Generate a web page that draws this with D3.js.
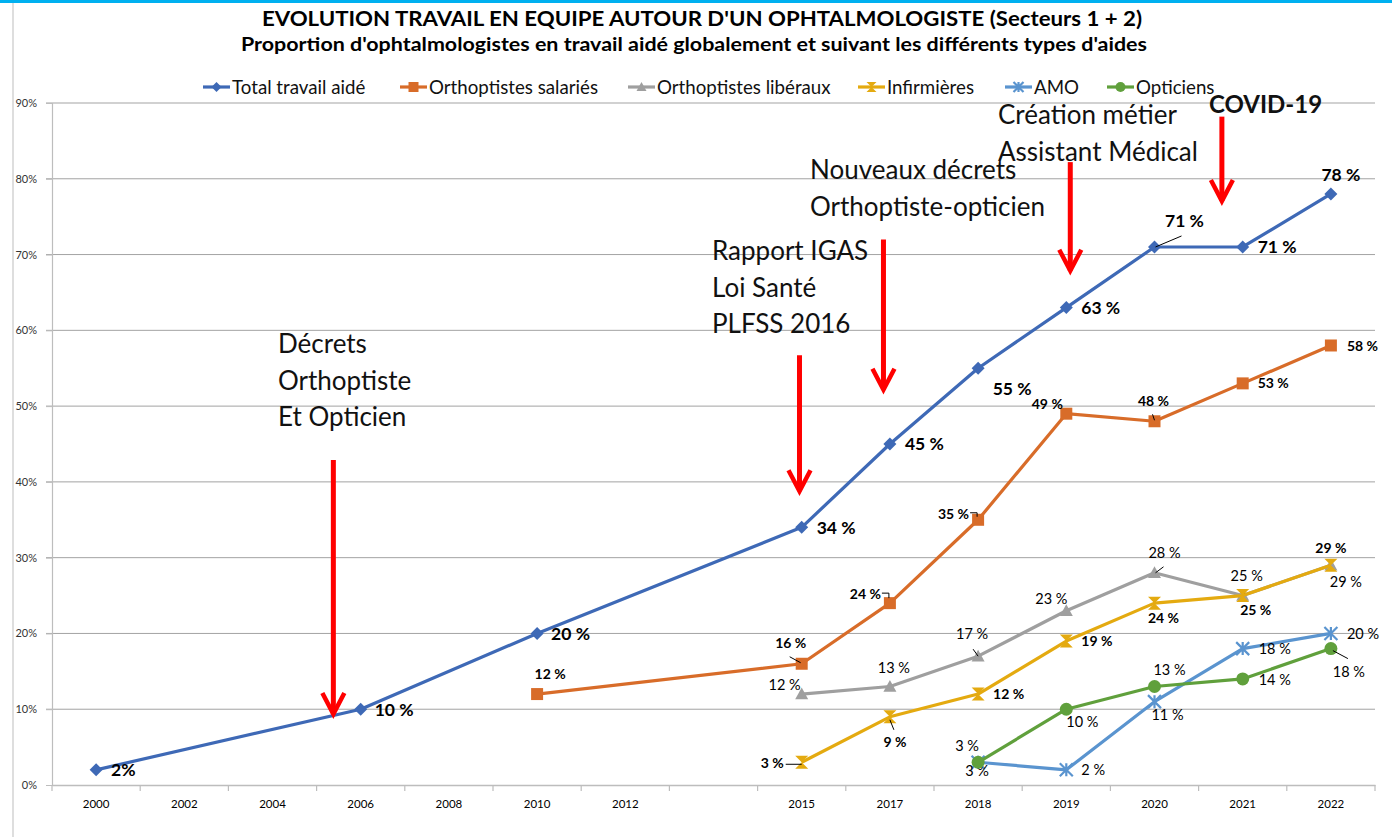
<!DOCTYPE html>
<html>
<head>
<meta charset="utf-8">
<script src="https://cdn.jsdelivr.net/npm/d3@7"></script>
<style>
    body { margin: 0; background: #fff; }
    svg { display: block; font-family: Lato, "Open Sans", sans-serif; }
</style>
</head>
<body>
<div id="chart-area"></div>
<script>
//1. Data
var slots = ["2000", "2002", "2004", "2006", "2008", "2010", "2012", "2013", "2015", "2017", "2018", "2019", "2020", "2021", "2022"];
var slotLabels = ["2000", "2002", "2004", "2006", "2008", "2010", "2012", "", "2015", "2017", "2018", "2019", "2020", "2021", "2022"];
var yTicks = [0, 10, 20, 30, 40, 50, 60, 70, 80, 90];

var totalYears = ["2000", "2006", "2010", "2015", "2017", "2018", "2019", "2020", "2021", "2022"];
var totalValues = [2, 10, 20, 34, 45, 55, 63, 71, 71, 78];

var salariesYears = ["2010", "2015", "2017", "2018", "2019", "2020", "2021", "2022"];
var salariesValues = [12, 16, 24, 35, 49, 48, 53, 58];

var liberauxYears = ["2015", "2017", "2018", "2019", "2020", "2021", "2022"];
var liberauxValues = [12, 13, 17, 23, 28, 25, 29];

var infirmieresYears = ["2015", "2017", "2018", "2019", "2020", "2021", "2022"];
var infirmieresValues = [3, 9, 12, 19, 24, 25, 29];

var amoYears = ["2018", "2019", "2020", "2021", "2022"];
var amoValues = [3, 2, 11, 18, 20];

var opticiensYears = ["2018", "2019", "2020", "2021", "2022"];
var opticiensValues = [3, 10, 13, 14, 18];

//2. Label placement (dx, dy, anchor, leader points) - layout only
var totalLabelPos = [[15, 0, "start"], [14, 0, "start"], [14, 0, "start"], [15, 0, "start"], [15, 0, "start"],
    [34, 20, "middle"], [15, 0, "start"], [30, -26, "middle", [[1, 0], [27, -11]]], [15, 0, "start"], [10, -19, "middle"]];
var salariesLabelPos = [[13, -20, "middle"], [-11, -21, "middle", [[-1, -1], [-12, -7]]],
    [-9, -9, "end", [[-8, -10], [-1, -10], [-1, -5]]], [-9, -6, "end", [[-8, -7], [-1, -7], [-1, -3]]],
    [-19, -10, "middle"], [-1, -20, "middle", [[-2, -7], [0, -1]]], [15, 0, "start"], [16, 0, "start"]];
var liberauxLabelPos = [[-1, -9, "end"], [4, -19, "middle"], [-6, -22, "middle", [[-5, -7], [0, 0]]],
    [-15, -12, "middle"], [10, -20, "middle", [[1, 0], [9, -6]]], [4, -20, "middle", [[3, -6], [1, 0]]], [15, 17, "middle"]];
var infirmieresLabelPos = [[-18, 1, "end", [[-16, 2], [0, 2]]], [5, 25, "middle", [[0, 3], [4, 13]]],
    [15, 0, "start"], [15, 0, "start"], [9, 15, "middle"], [13, 14, "middle"], [0, -17, "middle"]];
var amoLabelPos = [[-1, 9, "middle"], [15, 0, "start"], [13, 13, "middle"], [16, 0, "start"], [16, 0, "start"]];
var opticiensLabelPos = [[-11, -16, "middle"], [16, 13, "middle"], [15, -17, "middle"], [16, 1, "start"],
    [18, 23, "middle", [[2, 2], [17, 10]]]];

var series = [
    { name: "Total travail aidé", years: totalYears, values: totalValues, color: "#3e69b6", marker: "diamond",
      pos: totalLabelPos, bold: true, size: 17.5, compactFirst: true },
    { name: "Orthoptistes salariés", years: salariesYears, values: salariesValues, color: "#d86c29", marker: "square",
      pos: salariesLabelPos, bold: true, size: 14 },
    { name: "Orthoptistes libéraux", years: liberauxYears, values: liberauxValues, color: "#9f9f9f", marker: "triangle",
      pos: liberauxLabelPos, bold: false, size: 14.5 },
    { name: "Infirmières", years: infirmieresYears, values: infirmieresValues, color: "#e4aa10", marker: "hourglass",
      pos: infirmieresLabelPos, bold: true, size: 14 },
    { name: "AMO", years: amoYears, values: amoValues, color: "#5a94cf", marker: "star",
      pos: amoLabelPos, bold: false, size: 14.5 },
    { name: "Opticiens", years: opticiensYears, values: opticiensValues, color: "#60a03c", marker: "circle",
      pos: opticiensLabelPos, bold: false, size: 14.5 }
];
var legendX = [203, 400, 628, 858, 1005, 1107];

// Annotations
var notes = [
    { lines: ["Décrets", "Orthoptiste", "Et Opticien"], x: 278, y: 353 },
    { lines: ["Rapport IGAS", "Loi Santé", "PLFSS 2016"], x: 712, y: 260 },
    { lines: ["Nouveaux décrets", "Orthoptiste-opticien"], x: 810, y: 179 },
    { lines: ["Création métier", "Assistant Médical"], x: 998, y: 124 },
    { lines: ["COVID-19"], x: 1209, y: 113, bold: true }
];
// Arrows: slot, offset in bands, top value, tip value (%)
var arrows = [
    { slot: "2006", off: -0.31, from: 42.9, to: 9.1 },
    { slot: "2015", off: -0.025, from: 56.7, to: 38.5 },
    { slot: "2017", off: -0.073, from: 72, to: 51.9 },
    { slot: "2019", off: 0.045, from: 82.2, to: 67.6 },
    { slot: "2021", off: -0.236, from: 88.2, to: 76.8 }
];

//3. SVG
var svg_width = 1392, svg_height = 837;
var svg = d3.select("#chart-area").append("svg")
    .attr("width", svg_width)
    .attr("height", svg_height);

// frame
svg.append("rect").attr("x", 0).attr("y", 0).attr("width", svg_width).attr("height", 3).attr("fill", "#00b0f0");
svg.append("line").attr("x1", 13).attr("x2", 13).attr("y1", 3).attr("y2", svg_height)
    .attr("stroke", "#c8c8c8").attr("stroke-width", 1.2);

//4. Scales
var x_scaling = d3.scaleBand().domain(slots).range([52, 1375]).padding(0);
var y_scaling = d3.scaleLinear().domain([0, 90]).range([785, 103]);
var cx = function (yr) { return x_scaling(yr) + x_scaling.bandwidth() / 2; };

// grid
svg.append("g").selectAll("line").data(yTicks.filter(function (d) { return d > 0; })).enter()
    .append("line")
    .attr("x1", 46).attr("x2", 1375)
    .attr("y1", function (d) { return y_scaling(d); })
    .attr("y2", function (d) { return y_scaling(d); })
    .attr("stroke", "#a3a3a3").attr("stroke-width", 1);

// axes
var x_axis_call = d3.axisBottom(x_scaling).tickSize(0).tickFormat(function (d, i) { return slotLabels[i]; });
var xg = svg.append("g").attr("transform", "translate(0,785)").call(x_axis_call);
xg.select(".domain").attr("stroke", "#bdbdbd").attr("stroke-width", 1.5);
xg.selectAll("text").attr("dy", 0).attr("y", 23).attr("font-size", "11.5px").attr("fill", "#000")
    .attr("font-family", "Lato, sans-serif");
xg.selectAll(".sep").data(slots.concat(["end"])).enter().append("line")
    .attr("class", "sep")
    .attr("x1", function (d, i) { return 52 + i * x_scaling.bandwidth(); })
    .attr("x2", function (d, i) { return 52 + i * x_scaling.bandwidth(); })
    .attr("y1", 0).attr("y2", 6).attr("stroke", "#bdbdbd").attr("stroke-width", 1.2);

var y_axis_call = d3.axisLeft(y_scaling).tickValues(yTicks).tickSize(6).tickPadding(9)
    .tickFormat(function (d) { return d + "%"; });
var yg = svg.append("g").attr("transform", "translate(52,0)").call(y_axis_call);
yg.select(".domain").attr("stroke", "#bdbdbd").attr("stroke-width", 1.2);
yg.selectAll(".tick line").attr("stroke", "#bdbdbd");
yg.selectAll("text").attr("font-size", "11px").attr("fill", "#333").attr("font-family", "Lato, sans-serif");

//5. Title
svg.append("text").attr("x", 702).attr("y", 26).attr("text-anchor", "middle")
    .attr("font-size", "21px").attr("font-weight", "bold")
    .attr("textLength", 880).attr("lengthAdjust", "spacingAndGlyphs")
    .text("EVOLUTION TRAVAIL EN EQUIPE AUTOUR D'UN OPHTALMOLOGISTE (Secteurs 1 + 2)");
svg.append("text").attr("x", 694).attr("y", 51).attr("text-anchor", "middle")
    .attr("font-size", "18px").attr("font-weight", "bold")
    .attr("textLength", 906).attr("lengthAdjust", "spacingAndGlyphs")
    .text("Proportion d'ophtalmologistes en travail aidé globalement et suivant les différents types d'aides");

//6. Markers
function markerPath(type, s) {
    var h = s / 2;
    switch (type) {
        case "diamond": return "M0," + (-h) + "L" + h + ",0L0," + h + "L" + (-h) + ",0Z";
        case "square": return "M" + (-h) + "," + (-h) + "h" + s + "v" + s + "h" + (-s) + "Z";
        case "triangle": return "M0," + (-h) + "L" + h + "," + (h * 0.8) + "L" + (-h) + "," + (h * 0.8) + "Z";
        case "hourglass": return "M" + (-h) + "," + (-h) + "H" + h + "L" + (-h) + "," + h + "H" + h + "Z";
        case "circle": return d3.symbol(d3.symbolCircle, Math.PI * h * h)();
        case "star": return "M" + (-h) + "," + (-h) + "L" + h + "," + h + "M" + h + "," + (-h) + "L" + (-h) + "," + h +
            "M0," + (-h) + "V" + h;
    }
}
function drawMarker(sel, s, type, color, size) {
    var p = sel.append("path").attr("d", markerPath(type, size));
    if (type == "star") {
        p.attr("fill", "none").attr("stroke", color).attr("stroke-width", 2.2);
    } else {
        p.attr("fill", color);
    }
    return p;
}

var line = d3.line()
    .x(function (d) { return cx(d.year); })
    .y(function (d) { return y_scaling(d.value); });

//7. Annotations (below series)
var noteG = svg.append("g");
notes.forEach(function (n) {
    n.lines.forEach(function (t, i) {
        noteG.append("text")
            .attr("x", n.x).attr("y", n.y + i * 36.5)
            .attr("font-size", n.bold ? "24px" : "26px")
            .attr("font-weight", n.bold ? "bold" : "normal")
            .attr("fill", "#111")
            .text(t);
    });
});

//8. Series
series.forEach(function (s) {
    var pts = s.years.map(function (yr, i) { return { year: yr, value: s.values[i] }; });
    var g = svg.append("g").attr("class", "series");
    g.append("path").datum(pts)
        .attr("d", line)
        .attr("fill", "none")
        .attr("stroke", s.color)
        .attr("stroke-width", 3.2)
        .attr("stroke-linejoin", "round");
    pts.forEach(function (d, i) {
        var px = cx(d.year), py = y_scaling(d.value);
        var m = g.append("g").attr("transform", "translate(" + px + "," + py + ")");
        drawMarker(m, s, s.marker, s.color, s.marker == "square" ? 12 : 13);
        var pos = s.pos[i];
        if (pos[3]) {
            g.append("path")
                .attr("d", d3.line()(pos[3].map(function (p) { return [px + p[0], py + p[1]]; })))
                .attr("fill", "none").attr("stroke", "#000").attr("stroke-width", 1);
        }
        g.append("text")
            .attr("x", px + pos[0]).attr("y", py + pos[1])
            .attr("dy", "0.36em")
            .attr("text-anchor", pos[2])
            .attr("font-size", s.size + "px")
            .attr("font-weight", s.bold ? "bold" : "normal")
            .attr("fill", "#000")
            .text(s.compactFirst && i == 0 ? d.value + "%" : d.value + " %");
    });
});

//9. Arrows
var arrowG = svg.append("g");
arrows.forEach(function (a) {
    var ax = cx(a.slot) + a.off * x_scaling.bandwidth();
    var y1 = y_scaling(a.from), y2 = y_scaling(a.to);
    arrowG.append("line").attr("x1", ax).attr("x2", ax).attr("y1", y1).attr("y2", y2 - 2)
        .attr("stroke", "#ff0000").attr("stroke-width", 5);
    arrowG.append("path")
        .attr("d", "M" + (ax - 11) + "," + (y2 - 23) + "L" + ax + "," + (y2 - 2) + "L" + (ax + 11) + "," + (y2 - 23))
        .attr("fill", "none").attr("stroke", "#ff0000").attr("stroke-width", 4.5)
        .attr("stroke-linejoin", "miter");
});

//10. Legend
var legend = svg.append("g").attr("class", "Legend_Holder");
series.forEach(function (s, i) {
    var row = legend.append("g").attr("transform", "translate(" + legendX[i] + ",87)");
    row.append("line").attr("x1", 0).attr("x2", 27).attr("y1", 0).attr("y2", 0)
        .attr("stroke", s.color).attr("stroke-width", 3.2);
    var m = row.append("g").attr("transform", "translate(13.5,0)");
    drawMarker(m, s, s.marker, s.color, 10);
    row.append("text").attr("x", 29).attr("y", 0).attr("dy", "0.35em")
        .attr("font-size", "18.7px").attr("fill", "#111")
        .text(s.name);
});
</script>
</body>
</html>
